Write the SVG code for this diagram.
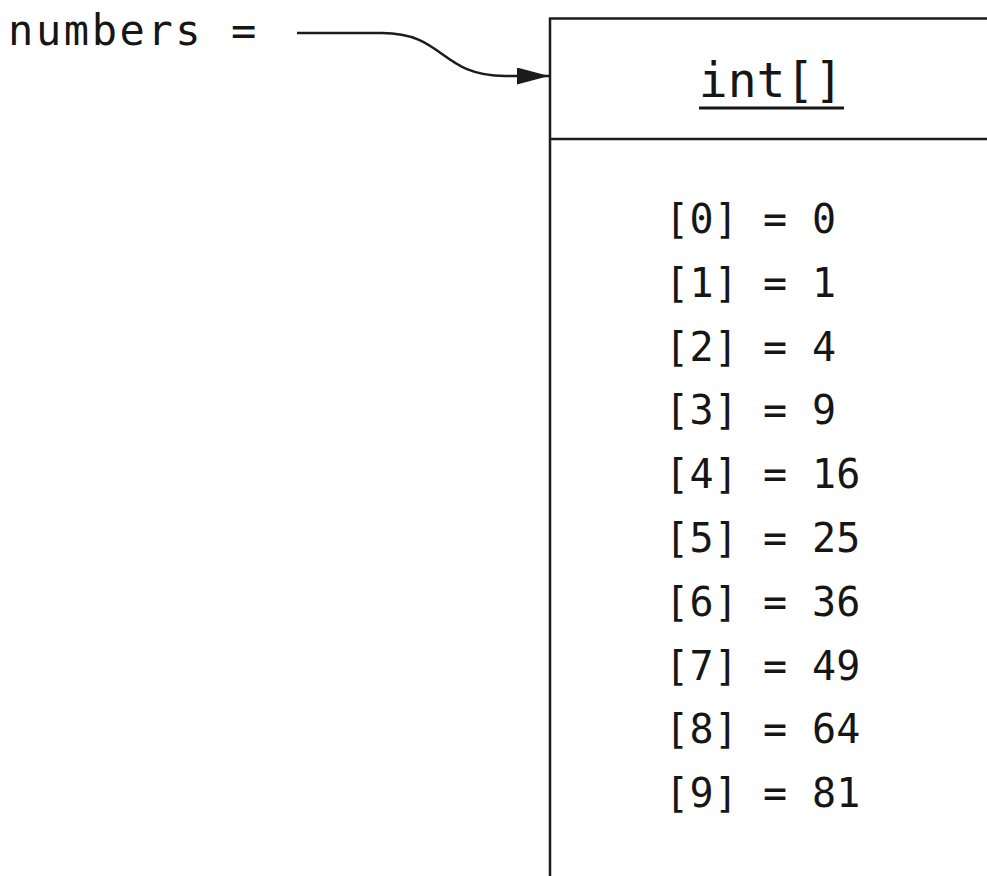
<svg xmlns="http://www.w3.org/2000/svg" width="987" height="876" viewBox="0 0 987 876">
  <style>
    .mono { font-family: "DejaVu Sans Mono", "Liberation Mono", monospace; fill: #161616; }
    .label { font-size: 42px; letter-spacing: 2.6px; }
    .title { font-size: 48px; }
    .elem { font-size: 40px; letter-spacing: 0.4px; }
    .frame { fill: #ffffff; stroke: #1c1c1c; stroke-width: 2.5; }
    .conn { fill: none; stroke: #1c1c1c; stroke-width: 2.5; }
  </style>
  <defs>
    <marker id="arrow" viewBox="0 0 32 17" refX="32" refY="8.5" markerWidth="32" markerHeight="17" markerUnits="userSpaceOnUse" orient="auto">
      <path d="M0,0 L32,8.5 L0,17 Z" fill="#1c1c1c"/>
    </marker>
  </defs>
  <rect width="987" height="876" fill="#ffffff"/>

  <g id="var-numbers">
    <text class="mono label" x="8" y="45">numbers =</text>
  </g>

  <g id="node-int-array">
    <rect class="frame" x="550" y="18.5" width="500" height="900"/>
    <line x1="550" y1="139" x2="1050" y2="139" stroke="#1c1c1c" stroke-width="2.5"/>
    <text class="mono title" x="771" y="97" text-anchor="middle">int[]</text>
    <line x1="699" y1="108" x2="844" y2="108" stroke="#161616" stroke-width="3"/>
    <text class="mono elem" x="665" y="233">[0] = 0</text>
    <text class="mono elem" x="665" y="297">[1] = 1</text>
    <text class="mono elem" x="665" y="361">[2] = 4</text>
    <text class="mono elem" x="665" y="424">[3] = 9</text>
    <text class="mono elem" x="665" y="488">[4] = 16</text>
    <text class="mono elem" x="665" y="552">[5] = 25</text>
    <text class="mono elem" x="665" y="616">[6] = 36</text>
    <text class="mono elem" x="665" y="680">[7] = 49</text>
    <text class="mono elem" x="665" y="743">[8] = 64</text>
    <text class="mono elem" x="665" y="807">[9] = 81</text>
  </g>

  <g id="connectors">
    <path class="conn" d="M297,33 L382,33 C445,33 440,76 505,76 L549,76" marker-end="url(#arrow)"/>
  </g>
</svg>
